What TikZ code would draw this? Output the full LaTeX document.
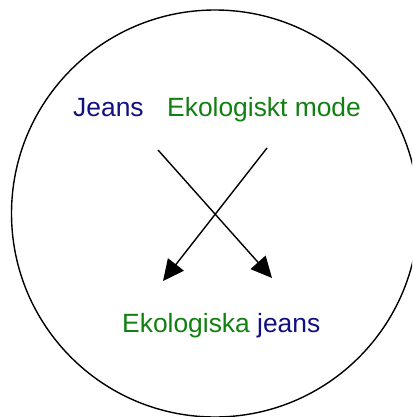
\documentclass[tikz,border=0pt]{standalone}
\usepackage{fontspec}
\setmainfont{Liberation Sans}
\usetikzlibrary{arrows.meta}
\definecolor{jblue}{RGB}{16,16,128}
\definecolor{egreen}{RGB}{16,128,16}
\tikzset{
  lbl/.style={anchor=base west, inner sep=0pt, font=\fontsize{26.4}{30}\selectfont},
  arr/.style={line width=1.4pt, -{Triangle[length=21pt,width=20pt]}}
}
\begin{document}
\begin{tikzpicture}[x=1pt,y=-1pt]
\useasboundingbox (0,0) rectangle (412,417);
\begin{scope}
\clip (0,0) rectangle (412,417);
\draw[line width=1.4pt] (215,213.5) circle (203.5);
\end{scope}
\node[lbl, text=jblue] (jeans) at (73,116.5) {Jeans};
\node[lbl, text=egreen] (eko) at (167,116.5) {Ekologiskt mode};
\node[lbl] (ekoj) at (122,332) {\textcolor{egreen}{Ekologiska} \textcolor{jblue}{jeans}};
\coordinate (s1) at (158,150);
\coordinate (t1) at (272,278);
\coordinate (s2) at (267,148);
\coordinate (t2) at (163,281);
\draw[arr] (s1) -- (t1);
\draw[arr] (s2) -- (t2);
\end{tikzpicture}
\end{document}
